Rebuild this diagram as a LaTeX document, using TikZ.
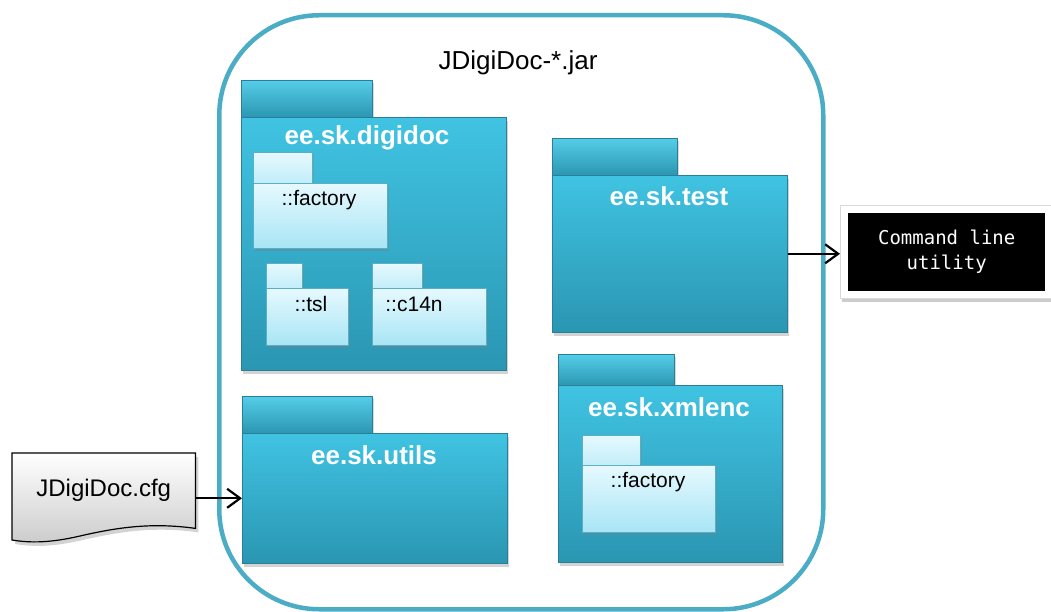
\documentclass[tikz,border=0pt]{standalone}
\usepackage{fontspec}
\setmainfont{Liberation Sans}
\newfontfamily\cmdfont{DejaVu Sans Mono}
\usetikzlibrary{arrows.meta,shadows,calc}
\definecolor{framec}{HTML}{4BACC6}
\definecolor{bodytop}{HTML}{40C3E2}
\definecolor{bodybot}{HTML}{2A96B2}
\definecolor{tabtop}{HTML}{55CDE8}
\definecolor{tabbot}{HTML}{2A95B0}
\definecolor{pkgedge}{HTML}{2A7F96}
\definecolor{lighttop}{HTML}{E6F9FE}
\definecolor{lightbot}{HTML}{A8E5F5}
\definecolor{lightedge}{HTML}{5AAFC5}
\definecolor{doc}{HTML}{CCCCCC}
\begin{document}
\begin{tikzpicture}[x=1pt,y=-1pt,
  jar/.style={draw=framec, line width=4.5pt, rounded corners=100pt, anchor=north west, inner sep=0},
  title/.style={font=\fontsize{26}{30}\selectfont, text=black},
  pkgtab/.style={draw=pkgedge, line width=0.6pt, top color=tabtop, bottom color=tabbot, anchor=north west, inner sep=0,
     drop shadow={opacity=0.3, shadow xshift=2pt, shadow yshift=-3pt}},
  pkgbody/.style={draw=pkgedge, line width=0.6pt, top color=bodytop, bottom color=bodybot, anchor=north west, inner sep=0,
     drop shadow={opacity=0.35, shadow xshift=2pt, shadow yshift=-4pt}},
  pkglabel/.style={font=\bfseries\fontsize{26}{30}\selectfont, text=white},
  subtab/.style={draw=lightedge, line width=0.6pt, top color=lighttop, bottom color=lightbot!60!lighttop, anchor=north west, inner sep=0,
     drop shadow={opacity=0.3, shadow xshift=1.5pt, shadow yshift=-2pt}},
  subbody/.style={draw=lightedge, line width=0.6pt, top color=lighttop, bottom color=lightbot, anchor=north west, inner sep=0,
     drop shadow={opacity=0.35, shadow xshift=1.5pt, shadow yshift=-3pt}},
  sublabel/.style={font=\fontsize{21}{24}\selectfont, text=black},
  arr/.style={-{Straight Barb[length=13pt,width=19pt,line width=2.2pt]}, line width=2.2pt},
  docshape/.style={draw=black, line width=1.2pt, top color=white, bottom color=doc,
     drop shadow={opacity=0.35, shadow xshift=3pt, shadow yshift=-4pt}}
]
\useasboundingbox (0,0) rectangle (1051,612);

% outer jar frame
\node[jar, minimum width=604pt, minimum height=594pt] (jar) at (217,13) {};
\node[title] (jartitle) at (518,63) {JDigiDoc-*.jar};

% ee.sk.digidoc
\node[pkgtab, minimum width=131pt, minimum height=38pt] (digidoctab) at (241,80) {};
\node[pkgbody, minimum width=265pt, minimum height=253pt] (digidoc) at (241,117) {};
\node[pkglabel] (digidocL) at (367,138) {ee.sk.digidoc};

\node[subtab, minimum width=59pt, minimum height=31pt] (dfactab) at (253,152) {};
\node[subbody, minimum width=134pt, minimum height=65pt] (dfac) at (253,183) {};
\node[sublabel] (dfacL) at (319,200) {::factory};

\node[subtab, minimum width=36pt, minimum height=26pt] (tsltab) at (266,263) {};
\node[subbody, minimum width=82pt, minimum height=57pt] (tsl) at (266,288) {};
\node[sublabel] (tslL) at (311,304) {::tsl};

\node[subtab, minimum width=50pt, minimum height=26pt] (c14ntab) at (372,263) {};
\node[subbody, minimum width=114pt, minimum height=57pt] (c14n) at (372,288) {};
\node[sublabel] (c14nL) at (414,304) {::c14n};

% ee.sk.test
\node[pkgtab, minimum width=125pt, minimum height=38pt] (testtab) at (552,138) {};
\node[pkgbody, minimum width=235pt, minimum height=157pt] (test) at (552,175) {};
\node[pkglabel] (testL) at (669,196) {ee.sk.test};

% ee.sk.utils
\node[pkgtab, minimum width=130pt, minimum height=38pt] (utilstab) at (242,396) {};
\node[pkgbody, minimum width=265pt, minimum height=130pt] (utils) at (242,433) {};
\node[pkglabel] (utilsL) at (374,455) {ee.sk.utils};

% ee.sk.xmlenc
\node[pkgtab, minimum width=116pt, minimum height=32pt] (xmlenctab) at (558,354) {};
\node[pkgbody, minimum width=224pt, minimum height=177pt] (xmlenc) at (558,385) {};
\node[pkglabel] (xmlencL) at (669,407) {ee.sk.xmlenc};

\node[subtab, minimum width=58pt, minimum height=31pt] (xfactab) at (582,435) {};
\node[subbody, minimum width=133pt, minimum height=67pt] (xfac) at (582,465) {};
\node[sublabel] (xfacL) at (648,482) {::factory};

% command line utility
\node[draw=black!15, fill=white, line width=0.8pt, anchor=north west, inner sep=0, minimum width=211pt, minimum height=93pt,
  drop shadow={opacity=0.4, shadow xshift=2pt, shadow yshift=-4pt}] (cmdframe) at (840,205) {};
\node[fill=black, text=white, anchor=north west, inner sep=0, minimum width=197pt, minimum height=78pt, align=center,
  font=\cmdfont\fontsize{19}{25}\selectfont] (cmd) at (848,213) {Command line\\utility};

% config document
\node[minimum width=183pt, minimum height=75pt, inner sep=0, anchor=north west] (cfgbox) at (12,453) {};
\path[docshape] (cfgbox.north west) -- (cfgbox.north east) -- (cfgbox.south east)
   .. controls (150,522) and (115,528) .. (80,536) .. controls (50,543) and (30,543) .. (12,540) -- cycle;
\node[font=\fontsize{24}{28}\selectfont] (cfg) at (cfgbox.center) {JDigiDoc.cfg};

% connectors
\draw[arr] (cfgbox.east |- utils.west) -- (utils.west);
\draw[arr] (test.east) -- (test.east -| cmdframe.west);
\end{tikzpicture}
\end{document}
